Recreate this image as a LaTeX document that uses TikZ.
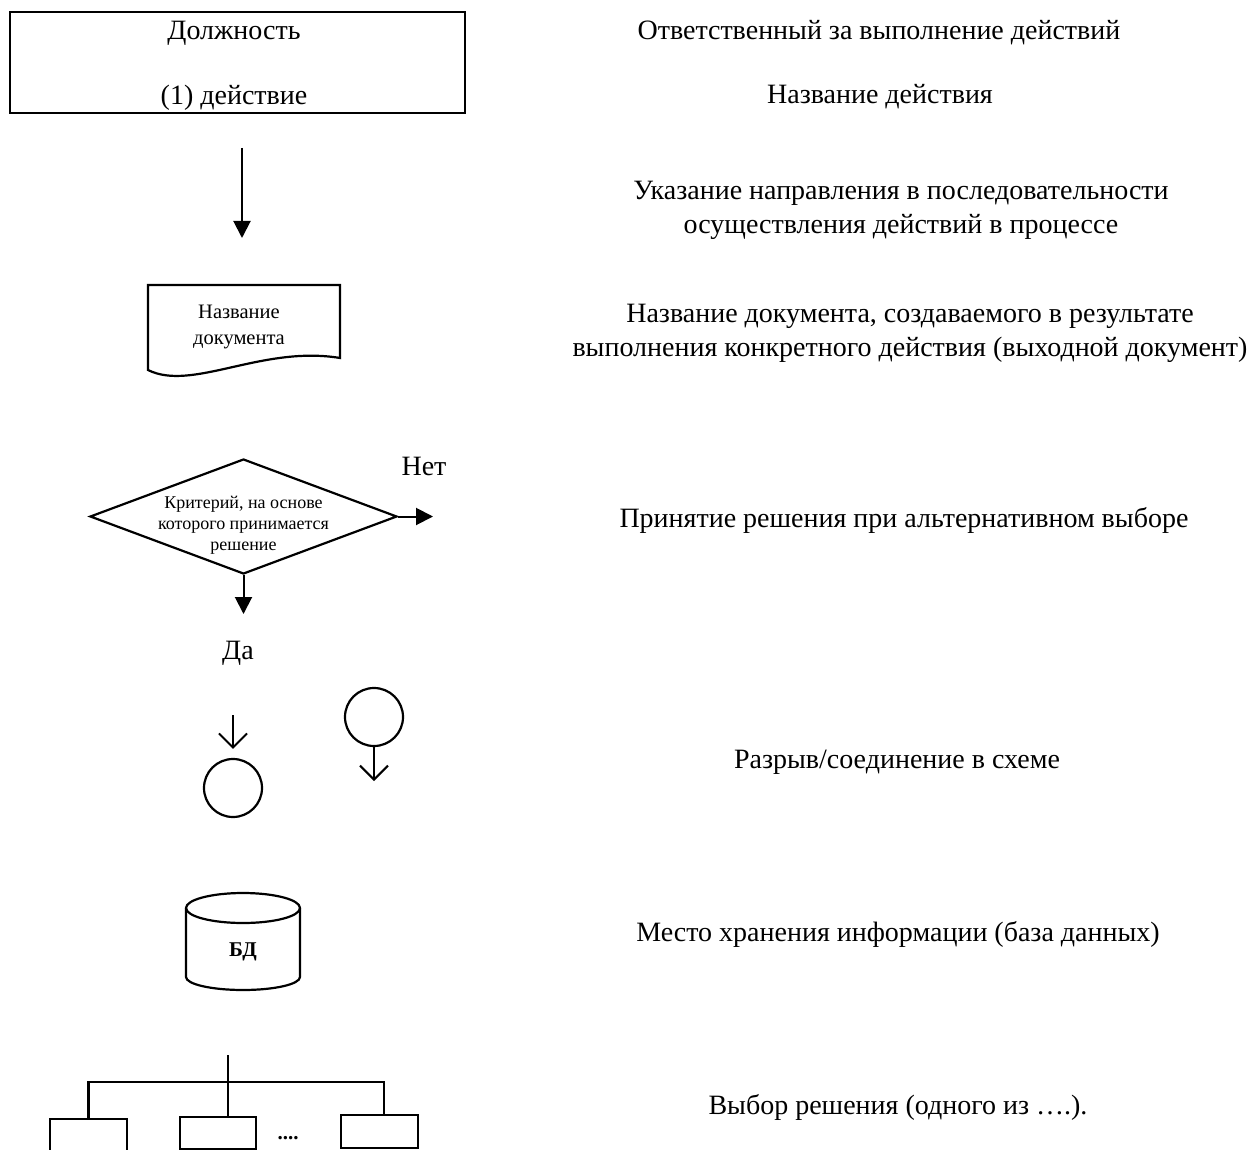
\documentclass[tikz,border=0pt]{standalone}
\usepackage{fontspec}
\setmainfont{Liberation Serif}
\usepackage{tikz}
\usetikzlibrary{arrows.meta,shapes.geometric,positioning}

\tikzset{
  lbl/.style={font=\fontsize{28}{34}\selectfont, align=center, inner sep=0pt},
  doclbl/.style={font=\fontsize{20.5}{25}\selectfont, align=center, inner sep=0pt},
  critlbl/.style={font=\fontsize{18}{21}\selectfont, align=center, inner sep=0pt},
  shp/.style={draw, line width=2.2pt},
  flow/.style={line width=2pt, -{Triangle[length=17pt,width=17pt]}},
  jump/.style={line width=2pt, -{Straight Barb[length=14pt,width=28pt]}},
}

\begin{document}
\begin{tikzpicture}[x=1pt,y=-1pt]
\useasboundingbox (0,0) rectangle (1258,1150);

% left column: symbols
\node[shp, minimum width=455pt, minimum height=101pt] (post) at (237.5,62.5) {};
\node[lbl, anchor=base] (postname) at (234,40) {Должность};
\node[lbl, anchor=base] (action) at (234,105) {(1) действие};

\coordinate (flowtop) at (242,148);
\coordinate (flowend) at (242,238);
\draw[flow] (flowtop) -- (flowend);

\draw[shp] (148,285) -- (340,285) -- (340,358) .. controls (262,345) and (192,392) .. (148,370) -- cycle;
\node[doclbl] (doc) at (239,327) {Название\\документа};

\node[shp, diamond, minimum width=307pt, minimum height=115pt, inner sep=0pt] (crit) at (243.5,516.5) {};
\node[critlbl] (crittext) at (243.5,525) {Критерий, на основе\\которого принимается\\решение};
\coordinate (noend) at (433,516.5);
\coordinate (yesend) at (243.5,614);
\draw[flow] (crit.east) -- (noend);
\draw[flow] (crit.south) -- (yesend);
\node[lbl, anchor=base] (no) at (424,475) {Нет};
\node[lbl, anchor=base] (yes) at (238,659) {Да};

\node[shp, circle, minimum size=58pt, inner sep=0pt] (offin) at (233,788) {};
\coordinate (intop) at (233,715);
\draw[jump, shorten >=9pt] (intop) -- (offin);
\node[shp, circle, minimum size=58pt, inner sep=0pt] (offout) at (374,717) {};
\coordinate (outend) at (374,781);
\draw[jump] (offout) -- (outend);

\draw[shp] (243,908) ellipse [x radius=57, y radius=15];
\draw[shp] (186,908) -- (186,977) arc[start angle=180, end angle=0, x radius=57, y radius=13] -- (300,908);
\node[lbl, font=\fontsize{21}{25}\selectfont\bfseries, anchor=base] (db) at (243,956) {БД};

\coordinate (root) at (228,1055);
\coordinate (bar) at (228,1082);
\coordinate (dropr) at (384,1082);
\node[shp, minimum width=77pt, minimum height=34pt, inner sep=0pt] (opt1) at (88.5,1136) {};
\node[shp, minimum width=76pt, minimum height=32pt, inner sep=0pt] (opt2) at (218,1133) {};
\node[shp, minimum width=77pt, minimum height=33pt, inner sep=0pt] (opt3) at (379.5,1131.5) {};
\draw[shp] (root) -- (bar);
\draw[shp] (opt1.north) |- (dropr) -- (dropr |- opt3.north);
\draw[shp] (bar) -- (bar |- opt2.north);
\node[lbl, font=\fontsize{21}{25}\selectfont\bfseries, anchor=base] (more) at (288,1139) {....};

% right column: meanings
\node[lbl, anchor=base] (m1) at (879,40) {Ответственный за выполнение действий};
\node[lbl, anchor=base] (m2) at (880,104) {Название действия};
\node[lbl] (m3) at (901,210) {Указание направления в последовательности\\осуществления действий в процессе};
\node[lbl] (m4) at (910,333) {Название документа, создаваемого в результате\\выполнения конкретного действия (выходной документ)};
\node[lbl, anchor=base] (m5) at (904,527) {Принятие решения при альтернативном выборе};
\node[lbl, anchor=base] (m6) at (897,768) {Разрыв/соединение в схеме};
\node[lbl, anchor=base] (m7) at (898,941) {Место хранения информации (база данных)};
\node[lbl, anchor=base] (m8) at (898,1114) {Выбор решения (одного из ….).};
\end{tikzpicture}
\end{document}
